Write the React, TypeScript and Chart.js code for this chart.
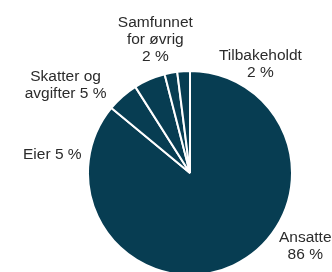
import React, { useEffect, useRef } from "react";
import { Chart, registerables } from "chart.js";

Chart.register(...registerables);

const categories = ["Ansatte", "Eier", "Skatter og avgifter", "Samfunnet for øvrig", "Tilbakeholdt"];
const values = [86, 5, 5, 2, 2];
const labelLines = [
  ["Ansatte", "86 %"],
  ["Eier 5 %"],
  ["Skatter og", "avgifter 5 %"],
  ["Samfunnet", "for øvrig", "2 %"],
  ["Tilbakeholdt", "2 %"],
];
// label block centre, in units of the pie radius, relative to the pie centre
const labelOffsetX = [1.13, -1.35, -1.22, -0.34, 0.69];
const labelOffsetY = [0.72, -0.18, -0.86, -1.31, -1.07];

const FILL = "#073d52";
const FONT = "15.5px 'Liberation Sans', Arial, sans-serif";
const LINE_H = 17;

const labelPlugin = {
  id: "outsideLabels",
  afterDraw(chart: any) {
    const meta = chart.getDatasetMeta(0);
    const ctx = chart.ctx;
    ctx.save();
    ctx.font = FONT;
    ctx.fillStyle = "#2b2b2b";
    ctx.textAlign = "center";
    ctx.textBaseline = "middle";
    meta.data.forEach((arc: any, i: number) => {
      const r = arc.outerRadius;
      const cx = arc.x + labelOffsetX[i] * r;
      const cy = arc.y + labelOffsetY[i] * r;
      const lines = labelLines[i];
      const top = cy - ((lines.length - 1) * LINE_H) / 2;
      lines.forEach((t, j) => ctx.fillText(t, cx, top + j * LINE_H));
    });
    ctx.restore();
  },
};

export default function App() {
  const ref = useRef<HTMLCanvasElement>(null);
  useEffect(() => {
    if (!ref.current) return;
    const chart = new Chart(ref.current, {
      type: "pie",
      data: {
        labels: categories,
        datasets: [
          {
            data: values,
            backgroundColor: FILL,
            borderColor: "#ffffff",
            borderWidth: 2,
            hoverOffset: 0,
          },
        ],
      },
      options: {
        responsive: false,
        animation: false,
        radius: 102,
        layout: { padding: { left: 60, right: 12, top: 80, bottom: 6 } },
        plugins: { legend: { display: false }, tooltip: { enabled: false } },
      },
      plugins: [labelPlugin],
    });
    return () => chart.destroy();
  }, []);
  return (
    <div style={{ position: "fixed", left: 0, top: 0, width: 332, height: 272, background: "#fff" }}>
      <canvas ref={ref} width={332} height={272} style={{ width: 332, height: 272 }} />
    </div>
  );
}
